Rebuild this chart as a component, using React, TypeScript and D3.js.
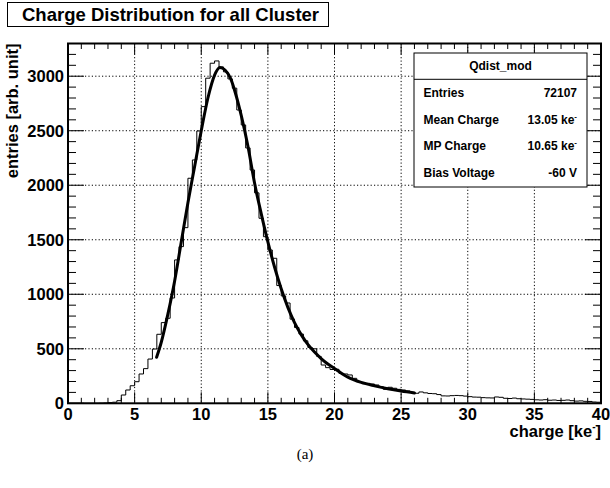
import React from 'react';
import * as d3 from 'd3';

// Histogram: 120 bins of 1/3 ke- from 0 to 40
const binWidth = 1 / 3;
const binCount = 120;
const counts = [
  0, 0, 0, 0, 0, 0, 0, 1, 3, 6, 10, 24,
  76, 122, 161, 198, 269, 318, 406, 498, 633, 740, 780, 966, 1315,
  1437, 1611, 2064, 2232, 2498, 2721, 2982, 3119, 3140, 3085,
  3040, 2975, 2890, 2690, 2553, 2342, 2140, 1930, 1697, 1528,
  1406, 1330, 1080, 985, 920, 772, 695, 635, 573, 512,
  500, 430, 351, 327, 310, 312, 275, 269, 260, 229,
  198, 189, 183, 177, 168, 152, 128, 147, 138, 128,
  122, 113, 101, 92, 104, 96, 90, 88, 80, 68,
  67, 70, 72, 70, 66, 61, 57, 56, 52, 50,
  49, 58, 55, 46, 44, 48, 42, 40, 38, 36,
  32, 30, 33, 28, 30, 26, 27, 30, 24, 20,
  22, 18, 17, 12, 10,
];

// Fit curve points
const fitX = [6.65, 7.0, 7.5, 8.0, 8.5, 9.0, 9.5, 10.0, 10.5, 11.0, 11.4, 11.8, 12.2, 12.6, 13.0, 13.5, 14.0, 14.5, 15.0, 15.5, 16.0, 16.5, 17.0, 17.5, 18.0, 18.5, 19.0, 19.5, 20.0, 21.0, 22.0, 23.0, 24.0, 25.0, 26.0];
const fitY = [422, 560, 820, 1120, 1480, 1840, 2170, 2500, 2800, 3010, 3080, 3055, 2980, 2830, 2640, 2360, 2020, 1740, 1480, 1250, 1050, 880, 740, 630, 540, 470, 410, 360, 320, 240, 192, 160, 133, 112, 95];

const xMajorTicks = [0, 5, 10, 15, 20, 25, 30, 35, 40];
const xMinorTicks = d3.range(0, 41, 1);
const yMajorTicks = [0, 500, 1000, 1500, 2000, 2500, 3000];
const yMinorTicks = d3.range(0, 3301, 100);

const titleText = 'Charge Distribution for all Cluster';
const statsTitle = 'Qdist_mod';
const statsLabels = ['Entries', 'Mean Charge', 'MP Charge', 'Bias Voltage'];
const statsValues = ['72107', '13.05 ke', '10.65 ke', '-60 V'];
const statsSup = [false, true, true, false];

const FONT = '"Liberation Sans", Arial, Helvetica, sans-serif';

export default function App() {
  const L = 68, R = 601, T = 43.5, B = 403.3;
  const x = d3.scaleLinear().domain([0, 40]).range([L, R]);
  const y = d3.scaleLinear().domain([0, 3300]).range([B, T]);

  const histPts: [number, number][] = counts.map((c, i) => [i * binWidth, c]);
  histPts.push([binCount * binWidth, counts[counts.length - 1]]);
  const histLine = d3
    .line<[number, number]>()
    .x((d) => x(d[0]))
    .y((d) => y(d[1]))
    .curve(d3.curveStepAfter)(histPts) as string;

  const fitPts: [number, number][] = fitX.map((v, i) => [v, fitY[i]]);
  const fitLine = d3
    .line<[number, number]>()
    .x((d) => x(d[0]))
    .y((d) => y(d[1]))
    .curve(d3.curveMonotoneX)(fitPts) as string;

  const statsRowY = [97, 123.5, 150, 176.5];

  return (
    <svg
      width={610}
      height={488}
      style={{ position: 'absolute', left: 0, top: 0, background: '#fff' }}
      fontFamily={FONT}
    >
      <rect x={0} y={0} width={610} height={488} fill="#fff" />

      {/* grid */}
      <g stroke="#000" strokeWidth={1} strokeDasharray="1.2,2.2">
        {xMajorTicks.filter((t) => t > 0 && t < 40).map((t) => (
          <line key={'gx' + t} x1={x(t)} x2={x(t)} y1={T} y2={B} />
        ))}
        {yMajorTicks.filter((t) => t > 0).map((t) => (
          <line key={'gy' + t} x1={L} x2={R} y1={y(t)} y2={y(t)} />
        ))}
      </g>

      {/* ticks */}
      <g stroke="#000" strokeWidth={1}>
        {xMinorTicks.map((t) => {
          const len = t % 5 === 0 ? 11 : 5.5;
          return (
            <g key={'xt' + t}>
              <line x1={x(t)} x2={x(t)} y1={B} y2={B - len} />
              <line x1={x(t)} x2={x(t)} y1={T} y2={T + len} />
            </g>
          );
        })}
        {yMinorTicks.map((t) => {
          const len = t % 500 === 0 ? 16 : 8;
          return (
            <g key={'yt' + t}>
              <line x1={L} x2={L + len} y1={y(t)} y2={y(t)} />
              <line x1={R} x2={R - len} y1={y(t)} y2={y(t)} />
            </g>
          );
        })}
      </g>

      {/* histogram */}
      <path d={histLine} fill="none" stroke="#000" strokeWidth={1} />
      {/* fit */}
      <path d={fitLine} fill="none" stroke="#000" strokeWidth={3} strokeLinecap="round" />

      {/* frame */}
      <rect x={L} y={T} width={R - L} height={B - T} fill="none" stroke="#000" strokeWidth={2} />

      {/* tick labels */}
      <g fontWeight="bold" fontSize={16.5} fill="#000">
        {xMajorTicks.map((t) => (
          <text key={'xl' + t} x={x(t)} y={419.5} textAnchor="middle">
            {t}
          </text>
        ))}
        {yMajorTicks.map((t) => (
          <text key={'yl' + t} x={64} y={y(t) + 6} textAnchor="end">
            {t}
          </text>
        ))}
      </g>

      {/* axis titles */}
      <text x={601} y={437} textAnchor="end" fontWeight="bold" fontSize={16.5}>
        charge [ke
        <tspan fontSize={10} dy={-7}>-</tspan>
        <tspan dy={7}>]</tspan>
      </text>
      <text
        transform="translate(18,43.5) rotate(-90)"
        textAnchor="end"
        fontWeight="bold"
        fontSize={16.5}
      >
        entries [arb. unit]
      </text>

      {/* title box */}
      <rect x={7.5} y={2.5} width={321} height={24} fill="#fff" stroke="#000" strokeWidth={1} />
      <text x={22} y={20.5} fontWeight="bold" fontSize={18.5}>
        {titleText}
      </text>

      {/* stats box */}
      <rect x={414} y={53} width={173} height={134} fill="#fff" stroke="#000" strokeWidth={1} />
      <line x1={414} x2={587} y1={79.3} y2={79.3} stroke="#000" strokeWidth={1} />
      <text x={500.5} y={70} textAnchor="middle" fontWeight="bold" fontSize={12}>
        {statsTitle}
      </text>
      {statsLabels.map((lab, i) => (
        <g key={lab} fontWeight="bold" fontSize={12}>
          <text x={423.5} y={statsRowY[i]}>{lab}</text>
          <text x={577} y={statsRowY[i]} textAnchor="end">
            {statsValues[i]}
            {statsSup[i] ? (
              <tspan fontSize={8} dy={-5}>-</tspan>
            ) : null}
          </text>
        </g>
      ))}

      {/* caption */}
      <text x={305} y={459} textAnchor="middle" fontFamily='"Liberation Serif", "Times New Roman", serif' fontSize={15}>
        (a)
      </text>
    </svg>
  );
}
